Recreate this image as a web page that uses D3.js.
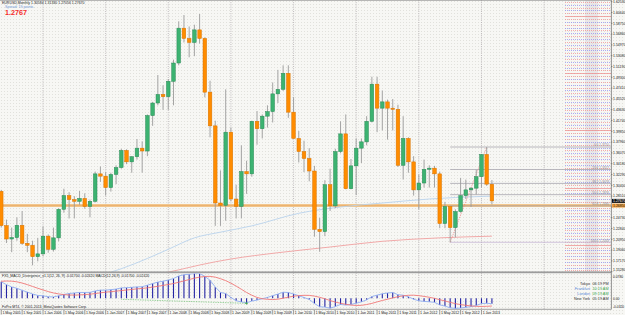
<!DOCTYPE html>
<html>
<head>
<meta charset="utf-8">
<script src="https://cdn.jsdelivr.net/npm/d3@7"></script>
<style>
  html, body { margin: 0; padding: 0; background: #f5f5f2; }
  svg { display: block; font-family: "Liberation Sans", Arial, sans-serif; }
</style>
</head>
<body>
<svg id="chart" width="625" height="315"></svg>
<script>
"use strict";

// EURUSD monthly bars, May 2005 .. Mar 2013
var firstMonth = new Date(2005, 4, 1);

var opens = [1.2935, 1.2335, 1.2100, 1.2125, 1.2340, 1.2025, 1.1990, 1.1790, 1.1840, 1.2150, 1.1920, 1.2120,
  1.2620, 1.2860, 1.2790, 1.2760, 1.2810, 1.2670, 1.2760, 1.3240, 1.3200, 1.3000, 1.3230, 1.3350,
  1.3650, 1.3450, 1.3540, 1.3690, 1.3640, 1.4260, 1.4480, 1.4630, 1.4590, 1.4860, 1.5180, 1.5790,
  1.5610, 1.5540, 1.5760, 1.5610, 1.4670, 1.4080, 1.2730, 1.2690, 1.3970, 1.2800, 1.2670, 1.3280,
  1.3240, 1.4160, 1.4030, 1.4250, 1.4330, 1.4640, 1.4720, 1.5000, 1.4320, 1.3860, 1.3630, 1.3510,
  1.3290, 1.2270, 1.2230, 1.3050, 1.2680, 1.3630, 1.3940, 1.2980, 1.3380, 1.3690, 1.3800, 1.4160,
  1.4810, 1.4390, 1.4500, 1.4390, 1.4370, 1.3390, 1.3860, 1.3450, 1.2960, 1.3080, 1.3320, 1.3340,
  1.3240, 1.2370, 1.2670, 1.2300, 1.2580, 1.2860, 1.2960, 1.2990, 1.3190, 1.3580, 1.3058];
var highs = [1.2960, 1.2440, 1.2300, 1.2480, 1.2590, 1.2190, 1.2070, 1.2120, 1.2320, 1.2180, 1.2300, 1.2640,
  1.2980, 1.2920, 1.2850, 1.2940, 1.2900, 1.2790, 1.3280, 1.3370, 1.3270, 1.3260, 1.3390, 1.3680,
  1.3670, 1.3550, 1.3850, 1.3810, 1.4280, 1.4500, 1.4970, 1.4790, 1.4900, 1.5240, 1.5910, 1.6020,
  1.5820, 1.5850, 1.6038, 1.5630, 1.4870, 1.4170, 1.3300, 1.4720, 1.4050, 1.3050, 1.3740, 1.3470,
  1.4170, 1.4340, 1.4280, 1.4440, 1.4840, 1.5060, 1.5140, 1.5140, 1.4580, 1.3990, 1.3820, 1.3690,
  1.3380, 1.2470, 1.3130, 1.3330, 1.3680, 1.4160, 1.4280, 1.3500, 1.3860, 1.3860, 1.4250, 1.4940,
  1.4940, 1.4700, 1.4540, 1.4550, 1.4450, 1.4250, 1.3880, 1.3550, 1.3230, 1.3490, 1.3390, 1.3380,
  1.3280, 1.2750, 1.2670, 1.2620, 1.3170, 1.3140, 1.3010, 1.3310, 1.3590, 1.3710, 1.3133];
var lows = [1.2300, 1.2030, 1.1870, 1.2070, 1.2000, 1.1870, 1.1640, 1.1710, 1.1800, 1.1860, 1.1880, 1.2060,
  1.2560, 1.2460, 1.2460, 1.2700, 1.2630, 1.2480, 1.2740, 1.3100, 1.2860, 1.2930, 1.3060, 1.3330,
  1.3410, 1.3260, 1.3490, 1.3260, 1.3550, 1.4080, 1.4440, 1.4360, 1.4360, 1.4440, 1.5140, 1.5540,
  1.5280, 1.5300, 1.5520, 1.4580, 1.3880, 1.2330, 1.2330, 1.2420, 1.2760, 1.2460, 1.2460, 1.2890,
  1.3190, 1.3750, 1.3860, 1.4050, 1.4140, 1.4480, 1.4690, 1.4220, 1.3860, 1.3440, 1.3270, 1.3110,
  1.2140, 1.1876, 1.2150, 1.2590, 1.2640, 1.3600, 1.2970, 1.2970, 1.2870, 1.3430, 1.3740, 1.4140,
  1.3970, 1.4000, 1.3840, 1.4000, 1.3360, 1.3140, 1.3260, 1.2860, 1.2620, 1.3000, 1.3000, 1.3000,
  1.2290, 1.2290, 1.2043, 1.2130, 1.2560, 1.2800, 1.2660, 1.2880, 1.3000, 1.3030, 1.2706];
var closes = [1.2335, 1.2100, 1.2125, 1.2340, 1.2025, 1.1990, 1.1790, 1.1840, 1.2150, 1.1920, 1.2120, 1.2620,
  1.2860, 1.2790, 1.2760, 1.2810, 1.2670, 1.2760, 1.3240, 1.3200, 1.3000, 1.3230, 1.3350, 1.3650,
  1.3450, 1.3540, 1.3690, 1.3640, 1.4260, 1.4480, 1.4630, 1.4590, 1.4860, 1.5180, 1.5790, 1.5610,
  1.5540, 1.5760, 1.5610, 1.4670, 1.4080, 1.2730, 1.2690, 1.3970, 1.2800, 1.2670, 1.3280, 1.3240,
  1.4160, 1.4030, 1.4250, 1.4330, 1.4640, 1.4720, 1.5000, 1.4320, 1.3860, 1.3630, 1.3510, 1.3290,
  1.2270, 1.2230, 1.3050, 1.2680, 1.3630, 1.3940, 1.2980, 1.3380, 1.3690, 1.3800, 1.4160, 1.4810,
  1.4390, 1.4500, 1.4390, 1.4370, 1.3390, 1.3860, 1.3450, 1.2960, 1.3080, 1.3320, 1.3340, 1.3240,
  1.2370, 1.2670, 1.2300, 1.2580, 1.2860, 1.2960, 1.2990, 1.3190, 1.3580, 1.3060, 1.2767];

// MACD(12,26,9)
var macdMain = [0.0518, 0.0429, 0.0357, 0.0315, 0.0252, 0.0196, 0.0136, 0.0091, 0.0079, 0.0049, 0.0043, 0.0077,
  0.0121, 0.0149, 0.0168, 0.0184, 0.0183, 0.0187, 0.0232, 0.0257, 0.0257, 0.0272, 0.0291, 0.0327,
  0.0334, 0.0344, 0.0359, 0.0364, 0.0412, 0.0463, 0.0510, 0.0538, 0.0575, 0.0622, 0.0701, 0.0741,
  0.0758, 0.0780, 0.0776, 0.0690, 0.0567, 0.0357, 0.0185, 0.0150, 0.0028, -0.0077, -0.0112, -0.0140,
  -0.0087, -0.0056, -0.0013, 0.0027, 0.0083, 0.0133, 0.0192, 0.0182, 0.0136, 0.0080, 0.0026, -0.0035,
  -0.0163, -0.0265, -0.0276, -0.0311, -0.0259, -0.0192, -0.0213, -0.0195, -0.0154, -0.0111, -0.0048, 0.0054,
  0.0100, 0.0143, 0.0167, 0.0182, 0.0114, 0.0097, 0.0049, -0.0028, -0.0078, -0.0097, -0.0109, -0.0126,
  -0.0207, -0.0244, -0.0299, -0.0317, -0.0305, -0.0284, -0.0262, -0.0226, -0.0164, -0.0155, -0.0170];
var macdSignal = [0.0535, 0.0544, 0.0539, 0.0519, 0.0480, 0.0430, 0.0373, 0.0316, 0.0264, 0.0212, 0.0169, 0.0138,
  0.0116, 0.0105, 0.0101, 0.0107, 0.0117, 0.0129, 0.0149, 0.0173, 0.0193, 0.0210, 0.0226, 0.0243,
  0.0260, 0.0278, 0.0297, 0.0312, 0.0329, 0.0352, 0.0378, 0.0406, 0.0433, 0.0465, 0.0505, 0.0547,
  0.0591, 0.0632, 0.0667, 0.0687, 0.0690, 0.0666, 0.0617, 0.0556, 0.0477, 0.0384, 0.0285, 0.0183,
  0.0097, 0.0028, -0.0014, -0.0031, -0.0039, -0.0027, 0.0003, 0.0036, 0.0066, 0.0085, 0.0094, 0.0092,
  0.0070, 0.0032, -0.0014, -0.0070, -0.0119, -0.0155, -0.0188, -0.0212, -0.0225, -0.0220, -0.0195, -0.0159,
  -0.0113, -0.0068, -0.0029, 0.0015, 0.0050, 0.0078, 0.0095, 0.0098, 0.0083, 0.0061, 0.0033, 0.0000,
  -0.0043, -0.0083, -0.0127, -0.0167, -0.0198, -0.0221, -0.0239, -0.0252, -0.0256, -0.0251, -0.0242];

// moving averages on the price window: [bar, price]
var maBlue = [[21, 1.152], [23, 1.158], [28, 1.176], [32, 1.192], [37, 1.212], [42, 1.222], [48, 1.233],
  [57, 1.255], [65, 1.266], [73, 1.273], [82, 1.280], [92, 1.2845], [94, 1.2850]];
var maRed = [[30, 1.148], [34, 1.156], [38, 1.1645], [44, 1.175], [53, 1.186], [63, 1.196], [73, 1.206],
  [84, 1.212], [94, 1.215]];

var priceTicks = [1.62530, 1.60640, 1.58750, 1.56860, 1.54970, 1.53080, 1.51190, 1.49300, 1.47410,
  1.45520, 1.43630, 1.41740, 1.39850, 1.37960, 1.36070, 1.34180, 1.32290, 1.30400, 1.28510,
  1.26620, 1.24730, 1.22840, 1.20950, 1.19060, 1.17170, 1.15280];
var macdTicks = [0.07800, 0.0, -0.03200];

// fibo from Jul 2012 low to Feb 2013 high
var fibFrom = [86, 1.2043], fibTo = [93, 1.3710];
var fibLevels = [0, 23.6, 38.2, 50, 61.8, 100];
var hLinePrice = 1.2685;
var bidPrice = 1.2767;
var divergence = [[23, -0.0031], [47, -0.0157]];

var clocks = [["Tokyo", "06:19 PM", "#333", "#333"], ["Frankfurt", "10:19 AM", "#5a86d6", "#3aa64a"],
  ["London", "09:19 AM", "#5a86d6", "#3aa64a"], ["New York", "05:19 AM", "#333", "#333"]];

var W = 625, H = 315, plotRight = 611, mainBottom = 272, subTop = 273.5, subBottom = 309;
var nBars = closes.length;

var svg = d3.select("#chart");

var x = d3.scaleLinear().domain([0, 1]).range([1.24, 1.24 + 5.22]);
var y = d3.scaleLinear().domain([1.15280, 1.62530]).range([271.7, 1.7]);
var ym = d3.scaleLinear().domain([-0.0320, 0.0780]).range([308.5, 273.5]);

var bars = d3.range(nBars).map(function (i) {
  return { i: i, o: opens[i], h: highs[i], l: lows[i], c: closes[i],
    date: d3.timeMonth.offset(firstMonth, i) };
});

// background with the stipple of the terminal
var defs = svg.append("defs");
var pat = defs.append("pattern").attr("id", "stip").attr("width", 3).attr("height", 3)
  .attr("patternUnits", "userSpaceOnUse");
pat.append("rect").attr("width", 3).attr("height", 3).attr("fill", "#f7f7f4");
pat.append("rect").attr("x", 1).attr("y", 1).attr("width", 0.9).attr("height", 0.9).attr("fill", "#dcdcd7");
defs.append("clipPath").attr("id", "clipMain").append("rect")
  .attr("x", 0).attr("y", 0).attr("width", plotRight).attr("height", mainBottom);
defs.append("clipPath").attr("id", "clipSub").append("rect")
  .attr("x", 0).attr("y", subTop).attr("width", plotRight).attr("height", subBottom - subTop);

svg.append("rect").attr("width", W).attr("height", H).attr("fill", "url(#stip)");

// vertical grid, every January
var gridBars = d3.range(8, 110, 12);
svg.append("g").selectAll("line").data(gridBars).join("line")
  .attr("x1", d => x(d)).attr("x2", d => x(d)).attr("y1", 0).attr("y2", subBottom)
  .attr("stroke", "#a9a3a8").attr("stroke-width", 0.7).attr("stroke-dasharray", "1,1.2");

var main = svg.append("g").attr("clip-path", "url(#clipMain)");

// round-number levels on the right
var levels = d3.range(231, 326).map(k => k * 0.005);
function isRound(d) { return Math.round(d * 1000) % 100 === 0; }
var lv = main.append("g");
lv.append("rect").attr("x", 585).attr("y", 0).attr("width", 13).attr("height", mainBottom)
  .attr("fill", "#d6d3da").attr("opacity", 0.45);
lv.selectAll("line").data(levels).join("line")
  .attr("x1", 565).attr("x2", plotRight)
  .attr("y1", d => Math.round(y(d)) + 0.5).attr("y2", d => Math.round(y(d)) + 0.5)
  .attr("stroke", function (d) {
    if (isRound(d)) return "#ec7a7a";
    return Math.round(d / 0.005) % 2 === 0 ? "#7a7af0" : "#f07a7a";
  })
  .attr("stroke-opacity", d => isRound(d) ? 0.8 : 0.6)
  .attr("stroke-width", d => isRound(d) ? 0.8 : 1)
  .attr("stroke-dasharray", d => isRound(d) ? null : "1,1");

// horizontal line
main.append("line").attr("x1", 0).attr("x2", plotRight)
  .attr("y1", y(hLinePrice)).attr("y2", y(hLinePrice))
  .attr("stroke", "#f2c78e").attr("stroke-width", 3);
main.append("line").attr("x1", 0).attr("x2", plotRight)
  .attr("y1", y(hLinePrice)).attr("y2", y(hLinePrice))
  .attr("stroke", "#e9a860").attr("stroke-width", 0.7);

// moving averages
var maLine = d3.line().x(d => x(d[0])).y(d => y(d[1])).curve(d3.curveMonotoneX);
main.append("path").attr("d", maLine(maBlue)).attr("fill", "none")
  .attr("stroke", "#b9d3ec").attr("stroke-width", 0.9);
main.append("path").attr("d", maLine(maRed)).attr("fill", "none")
  .attr("stroke", "#f0a0a0").attr("stroke-width", 0.9);

// fibonacci
var fibHigh = fibTo[1], fibLow = fibFrom[1];
function fibPrice(d) { return fibHigh - (fibHigh - fibLow) * d / 100; }
var fib = main.append("g");
fib.selectAll("line").data(fibLevels).join("line")
  .attr("x1", x(fibFrom[0])).attr("x2", plotRight)
  .attr("y1", d => y(fibPrice(d))).attr("y2", d => y(fibPrice(d)))
  .attr("stroke", d => d === 100 ? "#c7b6d6" : "#a8a6ae").attr("stroke-width", 0.8);
fib.selectAll("text").data(fibLevels).join("text")
  .attr("x", 609).attr("text-anchor", "end")
  .attr("y", d => y(fibPrice(d)) - 0.6)
  .attr("font-size", 3.2).attr("fill", "#8d8a92")
  .text(d => d.toFixed(1) + "   " + fibPrice(d).toFixed(4));
fib.append("line")
  .attr("x1", x(fibFrom[0])).attr("y1", y(fibFrom[1]))
  .attr("x2", x(fibTo[0])).attr("y2", y(fibTo[1]))
  .attr("stroke", "#ee7070").attr("stroke-width", 0.7).attr("stroke-dasharray", "1,1");

// candles
var cg = main.append("g").selectAll("g").data(bars).join("g");
cg.append("line")
  .attr("x1", d => x(d.i)).attr("x2", d => x(d.i))
  .attr("y1", d => y(d.h)).attr("y2", d => y(d.l))
  .attr("stroke", "#9b9b9b").attr("stroke-width", 0.9);
cg.append("rect")
  .attr("x", d => x(d.i) - 1.8).attr("width", 3.6)
  .attr("y", d => y(Math.max(d.o, d.c)))
  .attr("height", d => Math.max(0.8, Math.abs(y(d.o) - y(d.c))))
  .attr("fill", d => d.c >= d.o ? "#3cb371" : "#ff8c00")
  .attr("stroke", d => Math.abs(d.c - d.o) < 0.001 ? "#333" : (d.c >= d.o ? "#2b8a56" : "#d87400"))
  .attr("stroke-width", 0.5);

// header text
svg.append("text").attr("x", 2).attr("y", 3.8).attr("font-size", 3.5).attr("fill", "#222")
  .text("EURUSD,Monthly  1.30584 1.31330 1.27056 1.27670");
svg.append("text").attr("x", 5).attr("y", 7.8).attr("font-size", 3.6).attr("fill", "#6f95d6")
  .text("Spread: 19 points.");
svg.append("text").attr("x", 5).attr("y", 15.2).attr("font-size", 7.2).attr("font-weight", "bold")
  .attr("fill", "#f52a2a").text(bidPrice.toFixed(4));

// frame of windows
svg.append("line").attr("x1", 0).attr("x2", plotRight).attr("y1", 0.4).attr("y2", 0.4)
  .attr("stroke", "#9a9a9a").attr("stroke-width", 0.8);
svg.append("rect").attr("x", 0).attr("y", mainBottom - 0.6).attr("width", plotRight).attr("height", 1.8)
  .attr("fill", "#9c9c9c");
svg.append("line").attr("x1", 0).attr("x2", plotRight).attr("y1", subBottom + 0.3).attr("y2", subBottom + 0.3)
  .attr("stroke", "#8c8c8c").attr("stroke-width", 0.8);
svg.append("line").attr("x1", plotRight + 0.4).attr("x2", plotRight + 0.4).attr("y1", 0).attr("y2", subBottom + 0.5)
  .attr("stroke", "#777").attr("stroke-width", 0.8);

// price axis; scale labels hidden under the price boxes are skipped
var boxes = [bidPrice, hLinePrice];
var shownTicks = priceTicks.filter(function (p) {
  return boxes.every(b => Math.abs(y(p) - y(b)) > 4.2);
});
var pa = svg.append("g");
pa.selectAll("line").data(priceTicks).join("line")
  .attr("x1", plotRight).attr("x2", plotRight + 1.5).attr("y1", d => y(d)).attr("y2", d => y(d))
  .attr("stroke", "#555").attr("stroke-width", 0.5);
pa.selectAll("text").data(shownTicks).join("text")
  .attr("x", plotRight + 2).attr("y", d => Math.min(y(d) + 1.3, 271.2))
  .attr("font-size", 3.5).attr("fill", "#222").text(d => d.toFixed(5));
pa.append("rect").attr("x", plotRight + 1).attr("y", y(bidPrice) - 2).attr("width", 14).attr("height", 4)
  .attr("fill", "#111");
pa.append("text").attr("x", plotRight + 2).attr("y", y(bidPrice) + 1.3).attr("font-size", 3.5)
  .attr("fill", "#fff").text(bidPrice.toFixed(5));
pa.append("rect").attr("x", plotRight + 1).attr("y", y(hLinePrice) - 2).attr("width", 14).attr("height", 4)
  .attr("fill", "#f0a040");
pa.append("text").attr("x", plotRight + 2).attr("y", y(hLinePrice) + 1.3).attr("font-size", 3.5)
  .attr("fill", "#222").text(hLinePrice.toFixed(5));

// MACD window
var sub = svg.append("g").attr("clip-path", "url(#clipSub)");
sub.selectAll("line.bar").data(macdMain).join("line").attr("class", "bar")
  .attr("x1", (d, i) => x(i)).attr("x2", (d, i) => x(i))
  .attr("y1", ym(0)).attr("y2", d => ym(d))
  .attr("stroke", "#2424a4").attr("stroke-width", 1.1);
var macdLine = d3.line().x((d, i) => x(i)).y(d => ym(d));
sub.append("path").attr("d", macdLine(macdMain)).attr("fill", "none")
  .attr("stroke", "#8eaef2").attr("stroke-width", 0.9);
sub.append("path").attr("d", macdLine(macdSignal)).attr("fill", "none")
  .attr("stroke", "#f07878").attr("stroke-width", 0.9);
sub.append("line")
  .attr("x1", x(divergence[0][0])).attr("y1", ym(divergence[0][1]))
  .attr("x2", x(divergence[1][0])).attr("y2", ym(divergence[1][1]))
  .attr("stroke", "#49b04f").attr("stroke-width", 0.7).attr("stroke-dasharray", "0.8,0.9");
sub.append("path")
  .attr("d", "M" + (x(divergence[1][0]) - 1.4) + "," + ym(divergence[1][1]) + "h2.8M" +
    x(divergence[1][0]) + "," + (ym(divergence[1][1]) - 1.4) + "v2.8")
  .attr("stroke", "#2f9a3a").attr("stroke-width", 0.7);

svg.append("text").attr("x", 2).attr("y", 277.3).attr("font-size", 3.5).attr("fill", "#222")
  .text("FX5_MACD_Divergence_v1.1(12, 26, 9) " + macdMain[nBars - 1].toFixed(5) + " " +
    macdSignal[nBars - 1].toFixed(5) + "  MACD(12,26,9) " + macdMain[nBars - 1].toFixed(5) + " " +
    macdSignal[nBars - 1].toFixed(5));
svg.append("text").attr("x", 2).attr("y", 307.8).attr("font-size", 3.5).attr("fill", "#222")
  .text("FxPro MT4, \u00a9 2001-2013, MetaQuotes Software Corp.");

svg.append("g").selectAll("text").data(macdTicks).join("text")
  .attr("x", plotRight + 2)
  .attr("y", function (d) {
    if (d === macdTicks[0]) return 277.6;
    if (d === macdTicks[2]) return 307.6;
    return ym(d) + 1.3;
  })
  .attr("font-size", 3.3).attr("fill", "#222")
  .text(d => d === 0 ? "0.00" : d.toFixed(4));

// clocks
var cl = svg.append("g").selectAll("g").data(clocks).join("g");
cl.append("text").attr("x", 590).attr("y", (d, k) => 284.6 + k * 5).attr("text-anchor", "end")
  .attr("font-size", 3.8).attr("fill", d => d[2]).text(d => d[0]);
cl.append("text").attr("x", 592.5).attr("y", (d, k) => 284.6 + k * 5)
  .attr("font-size", 3.8).attr("fill", d => d[3]).text(d => d[1]);

// time axis
var fmt = d3.timeFormat("%-d %b %Y");
var tickBars = bars.filter(d => d.i % 4 === 0);
var ta = svg.append("g");
ta.selectAll("line").data(tickBars).join("line")
  .attr("x1", d => x(d.i)).attr("x2", d => x(d.i)).attr("y1", 310).attr("y2", 314.5)
  .attr("stroke", "#444").attr("stroke-width", 0.5);
ta.selectAll("text").data(tickBars).join("text")
  .attr("x", d => x(d.i) + 1.2).attr("y", 313.7)
  .attr("font-size", 3.5).attr("fill", "#222").text(d => fmt(d.date));
</script>
</body>
</html>
